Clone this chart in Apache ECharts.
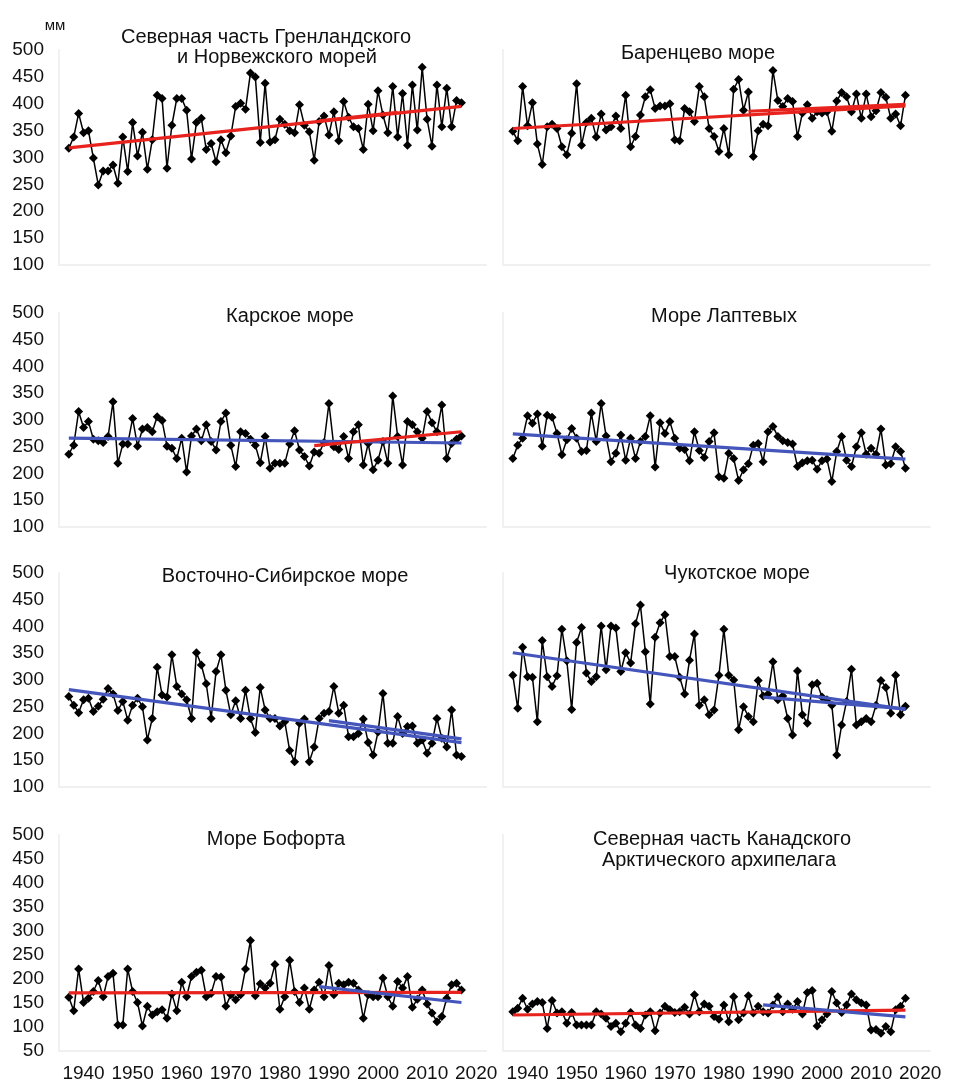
<!DOCTYPE html>
<html><head><meta charset="utf-8">
<script src="https://cdn.jsdelivr.net/npm/echarts@6/dist/echarts.min.js"></script>
<style>html,body{margin:0;padding:0;background:#fff}#c{width:953px;height:1084px}</style>
</head><body><div id="c"></div>
<script>
// ---------------- DATA ----------------
const years = [1937,1938,1939,1940,1941,1942,1943,1944,1945,1946,1947,1948,1949,1950,1951,1952,1953,1954,1955,1956,
  1957,1958,1959,1960,1961,1962,1963,1964,1965,1966,1967,1968,1969,1970,1971,1972,1973,1974,1975,1976,
  1977,1978,1979,1980,1981,1982,1983,1984,1985,1986,1987,1988,1989,1990,1991,1992,1993,1994,1995,1996,
  1997,1998,1999,2000,2001,2002,2003,2004,2005,2006,2007,2008,2009,2010,2011,2012,2013,2014,2015,2016,2017];
const xTickLabels = [1940,1950,1960,1970,1980,1990,2000,2010,2020];
const yTicksRows123 = [100,150,200,250,300,350,400,450,500];
const yTicksRow4 = [50,100,150,200,250,300,350,400,450,500];

const greenland = [317,338,382,346,350,299,249,275,275,286,252,338,274,365,303,347,278,333,416,410,
  280,360,410,410,388,297,365,373,315,326,292,333,309,340,395,401,390,457,450,328,
  438,329,333,371,362,350,346,398,360,348,295,367,377,342,385,331,404,375,357,354,
  315,399,350,424,379,346,432,338,419,323,435,351,468,371,321,435,357,429,357,406,402];
const barents = [349,331,432,359,402,325,287,357,362,354,320,305,345,437,323,365,373,338,381,351,
  357,377,354,416,320,339,379,413,426,391,396,396,400,333,331,391,385,367,432,413,
  354,339,311,354,305,427,445,388,422,302,350,362,359,462,406,395,410,404,339,383,
  398,373,385,383,385,349,405,421,413,385,418,373,418,376,387,421,412,373,381,359,416];
const kara = [236,253,316,286,297,264,261,258,269,334,219,255,255,303,251,283,286,278,306,299,
  251,247,228,266,203,270,283,261,291,260,244,297,313,253,213,278,275,264,253,220,
  269,210,219,219,219,255,280,244,232,214,240,238,258,331,250,245,269,228,278,291,
  216,256,207,225,260,219,345,269,216,297,291,278,266,316,295,278,328,228,256,264,270];
const laptev = [228,253,266,308,294,311,251,309,305,275,235,263,284,266,241,243,313,260,331,270,
  222,238,272,225,266,228,260,269,308,212,295,275,297,266,247,245,224,278,243,230,
  260,276,194,191,238,228,187,207,218,253,256,222,278,288,269,261,258,255,213,220,
  224,225,208,224,227,185,241,269,225,213,250,276,236,247,236,283,216,218,250,241,210];
const eastSiberian = [269,253,239,263,266,241,251,264,284,274,243,260,225,253,266,250,188,228,324,272,
  268,347,288,274,263,228,351,328,293,228,316,347,281,235,261,228,281,228,202,286,
  244,228,228,214,222,168,147,219,227,147,175,228,238,241,288,238,253,194,194,200,
  227,183,160,203,275,182,182,232,200,213,214,182,188,163,182,228,191,175,244,160,157];
const chukchi = [309,247,361,306,305,222,374,306,288,308,395,336,245,370,398,313,297,306,401,319,
  401,397,316,351,332,405,440,353,255,380,407,422,344,344,305,274,337,386,253,263,
  235,244,309,395,309,300,207,250,232,222,299,270,274,334,263,270,228,197,317,235,
  219,291,294,268,263,253,160,216,260,320,216,222,228,222,253,299,286,238,309,235,251];
const beaufort = [162,134,221,151,160,174,197,163,205,212,104,104,221,174,151,102,143,125,132,136,
  118,169,134,193,163,205,214,218,163,170,205,204,143,167,157,167,221,280,165,190,
  181,191,230,137,163,239,174,151,181,137,177,193,163,228,167,191,188,193,191,177,
  118,167,163,163,202,163,143,195,181,205,141,158,177,148,129,111,122,160,188,191,177];
const canadian = [132,139,160,137,148,153,151,97,155,129,132,108,130,104,104,104,104,132,127,118,
  101,108,90,108,130,104,97,125,132,92,129,143,136,130,132,141,127,167,132,148,
  143,122,116,146,111,163,115,129,165,129,143,132,129,146,163,132,148,137,153,127,
  172,176,102,115,127,174,150,130,146,169,157,150,146,94,95,87,101,90,136,143,160];

// trend lines: [year, value] end points
const greenlandTrendRed = [[1937,318],[2017,395]];
const greenlandTrendRed2 = [[1988,368],[2004,384]];
const barentsTrendRed = [[1937,354],[2017,396]];
const barentsTrendRed2 = [[1985,386],[2017,399]];
const karaTrendBlue = [[1937,266],[2017,257]];
const karaTrendRed = [[1987,252],[2017,278]];
const laptevTrendBlue = [[1937,274],[2017,227]];
const eastSiberianTrendBlue = [[1937,282],[2017,183]];
const eastSiberianTrendBlue2 = [[1990,224],[2017,190]];
const chukchiTrendBlue = [[1937,351],[2017,245]];
const chukchiTrendBlue2 = [[1988,268],[2017,246]];
const beaufortTrendRed = [[1937,171],[2017,172]];
const beaufortTrendBlue = [[1988,184],[2017,151]];
const canadianTrendRed = [[1937,125],[2017,135]];
const canadianTrendBlue = [[1988,146],[2017,121]];

const unitLabel = 'мм';
const titleLines = [
  'Северная часть Гренландского', 'и Норвежского морей',
  'Баренцево море', 'Карское море', 'Море Лаптевых',
  'Восточно-Сибирское море', 'Чукотское море', 'Море Бофорта',
  'Северная часть Канадского', 'Арктического архипелага'
];

// ---------------- CHART ----------------
const RED = '#e8221c', BLUE = '#4456bb';
const FONT = '"Liberation Sans", Arial, Helvetica, sans-serif';
const seriesValues = [greenland, barents, kara, laptev, eastSiberian, chukchi, beaufort, canadian];
const trends = [
  [[greenlandTrendRed, RED], [greenlandTrendRed2, RED]],
  [[barentsTrendRed, RED], [barentsTrendRed2, RED]],
  [[karaTrendBlue, BLUE], [karaTrendRed, RED]],
  [[laptevTrendBlue, BLUE]],
  [[eastSiberianTrendBlue, BLUE], [eastSiberianTrendBlue2, BLUE]],
  [[chukchiTrendBlue, BLUE], [chukchiTrendBlue2, BLUE]],
  [[beaufortTrendRed, RED], [beaufortTrendBlue, BLUE]],
  [[canadianTrendRed, RED], [canadianTrendBlue, BLUE]]
];

const rowTop = [50, 313, 573, 835];
const rowH = [215, 214, 214, 216];
const colLeft = [59, 503];
const gridW = 427;

const grids = [], xAxes = [], yAxes = [], series = [];
for (let i = 0; i < 8; i++) {
  const r = Math.floor(i / 2), c = i % 2;
  grids.push({left: colLeft[c], top: rowTop[r], width: gridW, height: rowH[r], containLabel: false, outerBoundsMode: 'none'});
  const ticksY = r === 3 ? yTicksRow4 : yTicksRows123;
  xAxes.push({
    type: 'value', gridIndex: i, min: 1935, max: 2022,
    axisLine: {show: true, lineStyle: {color: '#f0f0f0', width: 2}},
    axisTick: {show: false}, splitLine: {show: false},
    axisLabel: {show: r === 3, customValues: xTickLabels, margin: 13,
      fontSize: 19, fontFamily: FONT, color: '#111', formatter: v => String(v)}
  });
  yAxes.push({
    type: 'value', gridIndex: i, min: ticksY[0], max: ticksY[ticksY.length - 1], interval: 50,
    axisLine: {show: true, lineStyle: {color: '#f1f1f1', width: 2}},
    axisTick: {show: false}, splitLine: {show: false},
    axisLabel: {show: c === 0, margin: 15, fontSize: 19, fontFamily: FONT, color: '#111'}
  });
  const vals = seriesValues[i];
  series.push({
    type: 'line', xAxisIndex: i, yAxisIndex: i,
    data: years.map((y, k) => [y, vals[k]]),
    symbol: 'diamond', symbolSize: 9, showSymbol: true,
    itemStyle: {color: '#000'}, lineStyle: {color: '#000', width: 1.5},
    z: 2, silent: true
  });
  trends[i].forEach(([pts, col]) => {
    series.push({
      type: 'line', xAxisIndex: i, yAxisIndex: i, data: pts,
      symbol: 'none', lineStyle: {color: col, width: 3.2}, z: 3, silent: true
    });
  });
}

function txt(t, x, y, size) {
  return {type: 'text', x: x, y: y, z: 10, style: {
    text: t, fill: '#111', fontSize: size || 20, fontFamily: FONT,
    textAlign: 'center', textVerticalAlign: 'middle', align: 'center', verticalAlign: 'middle'}};
}

const chart = echarts.init(document.getElementById('c'), null, {renderer: 'canvas', width: 953, height: 1084});
chart.setOption({
  backgroundColor: '#ffffff',
  animation: false,
  grid: grids, xAxis: xAxes, yAxis: yAxes, series: series,
  graphic: [
    txt(unitLabel, 55, 26, 15),
    txt(titleLines[0], 266, 37), txt(titleLines[1], 277, 57),
    txt(titleLines[2], 698, 53),
    txt(titleLines[3], 290, 316),
    txt(titleLines[4], 724, 316),
    txt(titleLines[5], 285, 576),
    txt(titleLines[6], 737, 573),
    txt(titleLines[7], 276, 839),
    txt(titleLines[8], 722, 839), txt(titleLines[9], 719, 860)
  ]
});
</script></body></html>
